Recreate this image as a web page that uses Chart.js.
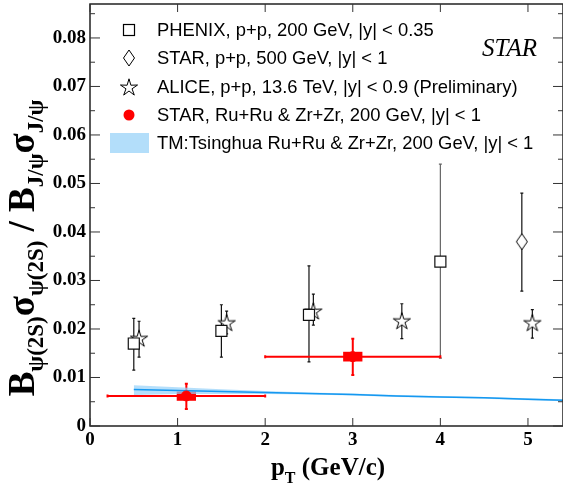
<!DOCTYPE html>
<html>
<head>
<meta charset="utf-8">
<script src="https://cdn.jsdelivr.net/npm/chart.js@4.4.0/dist/chart.umd.min.js"></script>
<style>
html,body{margin:0;padding:0;background:#fff;overflow:hidden;}
#wrap{width:563px;height:488px;position:relative;}
</style>
</head>
<body>
<div id="wrap"><canvas id="mychart"></canvas></div>
<script>
// PHENIX, p+p 200 GeV
const phenixPt=[0.5,1.5,2.5,4.0];
const phenixVal=[0.0170,0.0196,0.0229,0.0339];
const phenixLo=[0.0115,0.0142,0.0132,0.0140];
const phenixHi=[0.0222,0.0250,0.0330,0.0540];

// STAR, p+p 500 GeV
const starPpPt=[4.93];
const starPpVal=[0.0380];
const starPpLo=[0.0278];
const starPpHi=[0.0480];

// ALICE, p+p 13.6 TeV
const alicePt=[0.56,1.56,2.55,3.56,5.05];
const aliceVal=[0.0181,0.0213,0.0237,0.0217,0.0213];
const aliceLo=[0.0142,0.0190,0.0208,0.0180,0.0181];
const aliceHi=[0.0216,0.0237,0.0272,0.0252,0.0240];

// STAR, Ru+Ru & Zr+Zr 200 GeV
const ruzrPt=[1.1,3.0];
const ruzrVal=[0.0062,0.0143];
const ruzrLo=[0.0035,0.0105];
const ruzrHi=[0.0087,0.0180];
const ruzrPtLo=[0.2,2.0];
const ruzrPtHi=[2.0,4.0];
const ruzrSysLo=[0.0052,0.0133];
const ruzrSysHi=[0.0071,0.0153];
const ruzrSysW=0.11;

// TM Tsinghua
const tmPt=[0.5,1.0,1.5,2.0,2.5,3.0,3.5,4.0,4.5,5.0,5.4];
const tmVal=[0.0075,0.0073,0.0071,0.0069,0.0067,0.0065,0.0062,0.0060,0.0058,0.0055,0.0053];
const tmHi=[0.0084,0.0080,0.0076,0.0072,0.0069,0.0067,0.0064,0.0062,0.0060,0.0057,0.0055];
const tmLo=[0.0064,0.0066,0.0066,0.0066,0.0065,0.0063,0.0060,0.0058,0.0056,0.0053,0.0051];

const xTicks=[0,1,2,3,4,5];
const yTicks=[0,0.01,0.02,0.03,0.04,0.05,0.06,0.07,0.08];

function pts(xs,ys){return xs.map((x,i)=>({x:x,y:ys[i]}));}

// marker images
function makeStar(){
	var c=document.createElement('canvas');c.width=20;c.height=20;
	var g=c.getContext('2d');
	g.beginPath();
	for(var i=0;i<10;i++){
		var r=(i%2==0)?9:3.2;
		var a=-Math.PI/2+i*Math.PI/5;
		var px=10+r*Math.cos(a), py=10.8+r*Math.sin(a);
		if(i==0)g.moveTo(px,py);else g.lineTo(px,py);
	}
	g.closePath();
	g.fillStyle='#fff';g.fill();
	g.strokeStyle='#000';g.lineWidth=1;g.stroke();
	return c;
}
function makeDiamond(){
	var c=document.createElement('canvas');c.width=14;c.height=18;
	var g=c.getContext('2d');
	g.beginPath();
	g.moveTo(7,1);g.lineTo(12.5,9);g.lineTo(7,17);g.lineTo(1.5,9);g.closePath();
	g.fillStyle='#fff';g.fill();
	g.strokeStyle='#000';g.lineWidth=1;g.stroke();
	return c;
}
const starImg=makeStar();
const diamondImg=makeDiamond();

const errBars={
	id:'errBars',
	beforeDatasetsDraw(chart){
		var ctx=chart.ctx, xs=chart.scales.x, ys=chart.scales.y;
		ctx.save();
		// red sys boxes
		for(var i=0;i<ruzrPt.length;i++){
			var x0=xs.getPixelForValue(ruzrPt[i]-ruzrSysW), x1=xs.getPixelForValue(ruzrPt[i]+ruzrSysW);
			var y0=ys.getPixelForValue(ruzrSysHi[i]), y1=ys.getPixelForValue(ruzrSysLo[i]);
			ctx.fillStyle='#f00';
			ctx.fillRect(x0,y0,x1-x0,y1-y0);
		}
		function vbar(x,lo,hi,col,w,cap){
			var px=xs.getPixelForValue(x), a=ys.getPixelForValue(lo), b=ys.getPixelForValue(hi);
			ctx.strokeStyle=col;ctx.lineWidth=w;
			ctx.beginPath();ctx.moveTo(px,a);ctx.lineTo(px,b);
			ctx.moveTo(px-cap,a);ctx.lineTo(px+cap,a);
			ctx.moveTo(px-cap,b);ctx.lineTo(px+cap,b);
			ctx.stroke();
		}
		function hbar(y,lo,hi,col,w,cap){
			var py=ys.getPixelForValue(y), a=xs.getPixelForValue(lo), b=xs.getPixelForValue(hi);
			ctx.strokeStyle=col;ctx.lineWidth=w;
			ctx.beginPath();ctx.moveTo(a,py);ctx.lineTo(b,py);
			ctx.moveTo(a,py-cap);ctx.lineTo(a,py+cap);
			ctx.moveTo(b,py-cap);ctx.lineTo(b,py+cap);
			ctx.stroke();
		}
		for(var i=0;i<phenixPt.length;i++) vbar(phenixPt[i],phenixLo[i],phenixHi[i],i==3?'#666':'#111',1.2,1.5);
		for(var i=0;i<starPpPt.length;i++) vbar(starPpPt[i],starPpLo[i],starPpHi[i],'#111',1.2,1.5);
		for(var i=0;i<alicePt.length;i++) vbar(alicePt[i],aliceLo[i],aliceHi[i],'#111',1.2,1.5);
		for(var i=0;i<ruzrPt.length;i++){
			hbar(ruzrVal[i],ruzrPtLo[i],ruzrPtHi[i],'#f00',2,1.5);
			vbar(ruzrPt[i],ruzrLo[i],ruzrHi[i],'#f00',2,1.5);
		}
		ctx.restore();
	}
};

const frame={
	id:'frame',
	afterDraw(chart){
		var ctx=chart.ctx, a=chart.chartArea, xs=chart.scales.x, ys=chart.scales.y;
		ctx.save();
		ctx.strokeStyle='#222';ctx.lineWidth=1.5;
		ctx.beginPath();
		ctx.moveTo(a.left,a.top);ctx.lineTo(a.right,a.top);ctx.lineTo(a.right,a.bottom);ctx.lineTo(a.left,a.bottom);ctx.closePath();
		ctx.stroke();
		ctx.lineWidth=1;ctx.strokeStyle='#333';
		ctx.beginPath();
		xTicks.forEach(function(v){
			var px=xs.getPixelForValue(v);
			ctx.moveTo(px,a.bottom);ctx.lineTo(px,a.bottom-8);
			ctx.moveTo(px,a.top);ctx.lineTo(px,a.top+8);
		});
		for(var k=0;k<=17;k++){
			var v=k*0.005, py=ys.getPixelForValue(v), len=(k%2==0)?10:5;
			if(py<a.top)continue;
			ctx.moveTo(a.left,py);ctx.lineTo(a.left+len,py);
			ctx.moveTo(a.right,py);ctx.lineTo(a.right-len,py);
		}
		ctx.stroke();

		// legend
		var rows=[
			{t:'PHENIX, p+p, 200 GeV, |y| < 0.35',y:30},
			{t:'STAR, p+p, 500 GeV, |y| < 1',y:58},
			{t:'ALICE, p+p, 13.6 TeV, |y| < 0.9 (Preliminary)',y:87},
			{t:'STAR, Ru+Ru & Zr+Zr, 200 GeV, |y| < 1',y:115},
			{t:'TM:Tsinghua Ru+Ru & Zr+Zr, 200 GeV, |y| < 1',y:143}
		];
		ctx.font='18.4px "Liberation Sans", Arial, sans-serif';
		ctx.fillStyle='#000';ctx.textBaseline='middle';ctx.textAlign='left';
		rows.forEach(function(r){ctx.fillText(r.t,157,r.y+1);});
		var mx=129;
		ctx.fillStyle='#fff';ctx.strokeStyle='#000';ctx.lineWidth=1.2;
		ctx.fillRect(mx-5.5,rows[0].y-5.5,11,11);ctx.strokeRect(mx-5.5,rows[0].y-5.5,11,11);
		ctx.drawImage(diamondImg,mx-7,rows[1].y-9);
		ctx.drawImage(starImg,mx-10,rows[2].y-10);
		ctx.fillStyle='#f00';ctx.beginPath();ctx.arc(mx,rows[3].y,5.5,0,Math.PI*2);ctx.fill();
		ctx.fillStyle='#b3defa';ctx.fillRect(110,rows[4].y-10,39,20);

		// STAR label
		ctx.font='italic 25px "Liberation Serif", "Times New Roman", serif';
		ctx.fillStyle='#000';ctx.textBaseline='alphabetic';
		ctx.fillText('STAR',482,56);

		// x title
		var big='bold 25px "Liberation Serif", serif', small='bold 16px "Liberation Serif", serif';
		ctx.font=big;var w1=ctx.measureText('p').width;
		ctx.font=small;var w2=ctx.measureText('T').width;
		ctx.font=big;var w3=ctx.measureText(' (GeV/c)').width;
		var sx=328-(w1+w2+w3)/2, by=475;
		ctx.font=big;ctx.fillText('p',sx,by);
		ctx.font=small;ctx.fillText('T',sx+w1,by+8);
		ctx.font=big;ctx.fillText(' (GeV/c)',sx+w1+w2,by);

		// y title
		var parts=[['B',0],['\u03c8(2S)',1],['\u03c3',0],['\u03c8(2S)',1],[' / ',0],['B',0],['J/\u03c8',1],['\u03c3',0],['J/\u03c8',1]];
		var bigY='bold 37px "Liberation Serif", serif', smallY='bold 23px "Liberation Serif", serif';
		var tot=0;
		parts.forEach(function(p){ctx.font=p[1]?smallY:bigY;p.push(ctx.measureText(p[0]).width);tot+=p[2];});
		ctx.translate(34,248);ctx.rotate(-Math.PI/2);
		var cx=-tot/2;
		parts.forEach(function(p){
			ctx.font=p[1]?smallY:bigY;
			ctx.fillText(p[0],cx,p[1]?9:0);
			cx+=p[2];
		});
		ctx.restore();
	}
};

var ctx=document.getElementById('mychart').getContext('2d');
var myChart=new Chart(ctx,{
	type:'scatter',
	data:{
		datasets:[{
			label:'TM upper',
			data:pts(tmPt,tmHi),
			showLine:true,
			borderWidth:0,
			borderColor:'rgba(0,0,0,0)',
			pointRadius:0,
			fill:'+1',
			backgroundColor:'rgba(150,210,250,0.7)',
			order:10
		},{
			label:'TM lower',
			data:pts(tmPt,tmLo),
			showLine:true,
			borderWidth:0,
			borderColor:'rgba(0,0,0,0)',
			pointRadius:0,
			fill:false,
			order:10
		},{
			label:'TM',
			data:pts(tmPt,tmVal),
			showLine:true,
			borderWidth:1.5,
			borderColor:'#1598f0',
			pointRadius:0,
			fill:false,
			order:9
		},{
			label:'STAR Ru+Ru & Zr+Zr',
			data:pts(ruzrPt,ruzrVal),
			pointStyle:'circle',
			pointRadius:5,
			backgroundColor:'#f00',
			borderColor:'#f00',
			order:1
		},{
			label:'PHENIX',
			data:pts(phenixPt,phenixVal),
			pointStyle:'rect',
			pointRadius:7.8,
			backgroundColor:'#fff',
			borderColor:'#111',
			borderWidth:1.2,
			order:2
		},{
			label:'STAR p+p',
			data:pts(starPpPt,starPpVal),
			pointStyle:diamondImg,
			order:2
		},{
			label:'ALICE',
			data:pts(alicePt,aliceVal),
			pointStyle:starImg,
			order:2
		}]
	},
	options:{
		responsive:true,
		maintainAspectRatio:false,
		animation:false,
		layout:{autoPadding:false,padding:{top:4,right:0,left:0,bottom:0}},
		plugins:{legend:{display:false},tooltip:{enabled:false}},
		scales:{
			x:{
				type:'linear',min:0,max:5.4,
				grid:{display:false,drawTicks:false},
				border:{display:false},
				ticks:{stepSize:1,includeBounds:false,padding:3,color:'#000',
					font:{family:'"Liberation Serif", serif',weight:'bold',size:19},
					callback:function(v){return v;}},
				afterFit:function(s){s.height=62;s.paddingLeft=0;s.paddingRight=0;}
			},
			y:{
				min:0,max:0.087,
				grid:{display:false,drawTicks:false},
				border:{display:false},
				ticks:{stepSize:0.01,includeBounds:false,padding:4,color:'#000',
					font:{family:'"Liberation Serif", serif',weight:'bold',size:19},
					callback:function(v){return v==0?'0':v.toFixed(2);}},
				afterFit:function(s){s.width=90;s.paddingTop=0;s.paddingBottom=0;}
			}
		}
	},
	plugins:[errBars,frame]
});
</script>
</body>
</html>
